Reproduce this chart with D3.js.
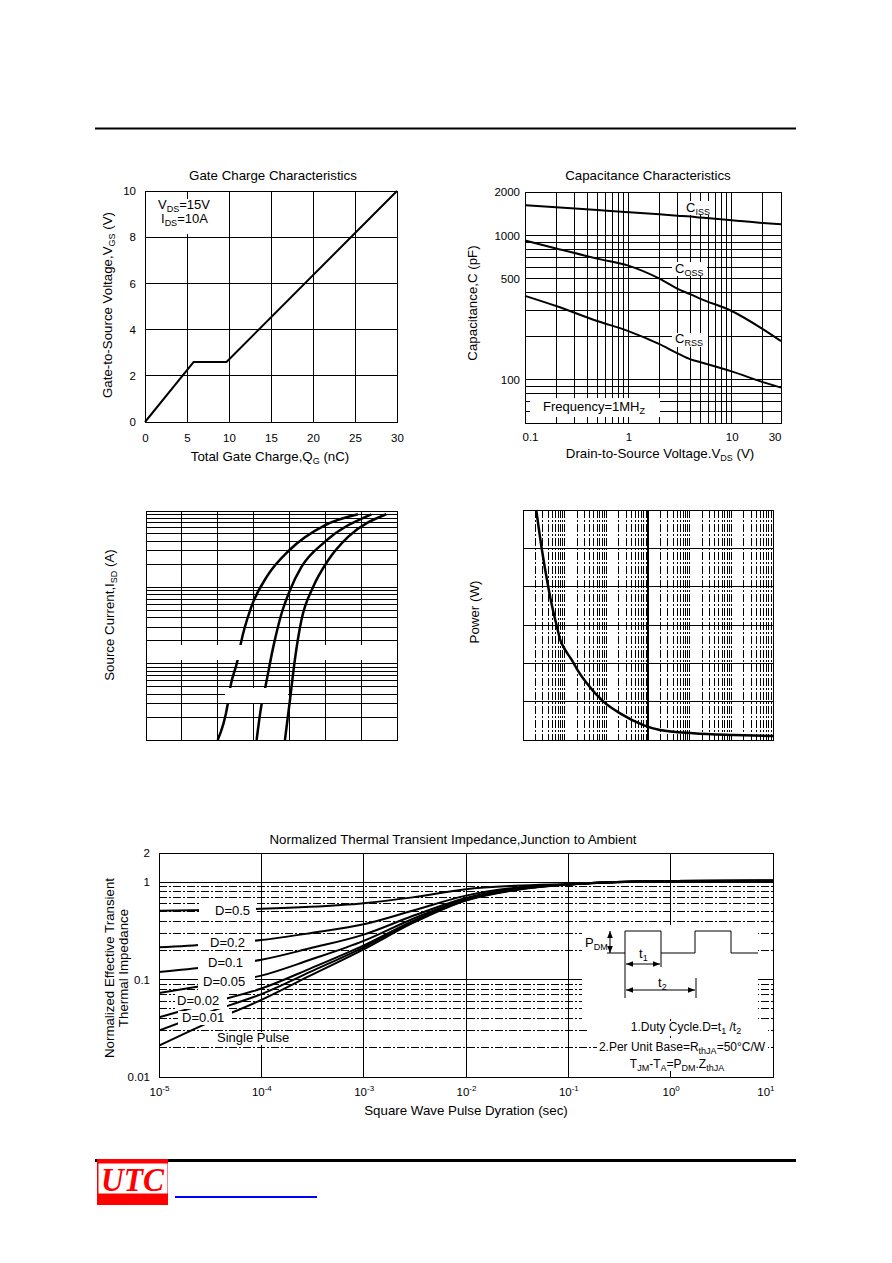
<!DOCTYPE html>
<meta charset="utf-8">
<script src="https://cdn.jsdelivr.net/npm/d3@7/dist/d3.min.js"></script>
<style>
body { margin: 0; background: #fff; }
svg text { font-family: "Liberation Sans", Arial, sans-serif; font-size: 13px; fill: #000; }
svg .tick text { font-size: 11.5px; }
svg text.title { font-size: 13.3px; }
svg text.small { font-size: 12px; }
line.grid { stroke: #000; stroke-width: 1px; shape-rendering: crispEdges; }
line.dash { stroke-dasharray: 8,2,2,2; }
path.curve { fill: none; stroke: #000; stroke-width: 2px; stroke-linejoin: round; }
rect.frame { fill: none; stroke: #000; stroke-width: 1px; shape-rendering: crispEdges; }
rect.blank { fill: #fff; }
</style>
<body>
<script>

// gate charge
var gateQ = [0, 5.8, 9.7, 30];
var gateV = [0, 2.6, 2.6, 10];
var gateXTicks = [0, 5, 10, 15, 20, 25, 30];
var gateYTicks = [0, 2, 4, 6, 8, 10];

// capacitance
var capV = [0.1, 0.2, 0.5, 1, 2, 3, 4, 5, 10, 20, 30];
var cissPF = [1620, 1570, 1500, 1450, 1400, 1370, 1350, 1330, 1275, 1220, 1195];
var cossPF = [922, 812, 690, 617, 501, 426, 390, 363, 299, 224, 185];
var crssPF = [381, 324, 255, 217, 176, 152, 138, 132, 114, 96, 88];
var capXTicks = [0.1, 1, 10, 30];
var capYTicks = [100, 500, 1000, 2000];

// source current vs source-drain voltage (three temperatures)
var sdXTicks = [0.2, 0.4, 0.6, 0.8, 1.0, 1.2, 1.4, 1.6];
var vsdA = [0.600, 0.656, 0.669, 0.712, 0.728, 0.789, 0.873, 0.999, 1.197, 1.382];
var isdA = [0.1, 0.296, 0.474, 1.14, 1.80, 5.67, 13.7, 30.6, 65.0, 90.6];
var vsdB = [0.817, 0.845, 0.864, 0.910, 0.956, 1.003, 1.067, 1.197, 1.457];
var isdB = [0.1, 0.296, 0.474, 1.66, 4.54, 9.17, 18.5, 39.4, 90.6];
var vsdC = [0.975, 1.003, 1.030, 1.067, 1.132, 1.216, 1.327, 1.540];
var isdC = [0.1, 0.334, 1.11, 3.72, 10.1, 22.6, 45.7, 90.6];

// single pulse power
var pwrT = [2.08e-4, 2.85e-4, 3.9e-4, 5.23e-4, 6.52e-4, 7.83e-4, 1.03e-3, 1.49e-3, 2.15e-3, 3.4e-3, 8.53e-3, 0.0214, 0.0774, 0.194, 1.22, 11.1, 100];
var pwrW = [120, 99.1, 81.7, 67.8, 59.1, 52.2, 47.0, 41.7, 35.7, 29.6, 20.0, 13.9, 7.8, 5.2, 3.5, 2.6, 2.1];
var pwrYTicks = [0, 20, 40, 60, 80, 100, 120];

// thermal transient impedance
var thT = [1e-5, 3e-5, 1e-4, 3e-4, 1e-3, 3e-3, 1e-2, 3e-2, 0.1, 1, 10];
var thD05 = [0.51, 0.52, 0.535, 0.56, 0.61, 0.70, 0.85, 0.92, 0.96, 1.03, 1.04];
var thD02 = [0.215, 0.23, 0.255, 0.30, 0.37, 0.51, 0.73, 0.88, 0.95, 1.03, 1.04];
var thD01 = [0.12, 0.135, 0.16, 0.21, 0.29, 0.45, 0.69, 0.86, 0.95, 1.03, 1.04];
var thD005 = [0.073, 0.088, 0.11, 0.16, 0.25, 0.42, 0.67, 0.85, 0.95, 1.03, 1.04];
var thD002 = [0.041, 0.057, 0.081, 0.13, 0.225, 0.40, 0.66, 0.84, 0.95, 1.03, 1.04];
var thD001 = [0.030, 0.046, 0.071, 0.12, 0.215, 0.39, 0.655, 0.84, 0.95, 1.03, 1.04];
var thSingle = [0.021, 0.036, 0.062, 0.11, 0.205, 0.38, 0.65, 0.83, 0.95, 1.03, 1.04];
var thXTicks = [1e-5, 1e-4, 1e-3, 1e-2, 1e-1, 1, 10];
var thXMajor = [1e-4, 1e-3, 1e-2, 1e-1, 1];
var thYTicks = [0.01, 0.1, 1, 2];

var svg = d3.select("body").append("svg")
    .attr("width", 892)
    .attr("height", 1263);

var defs = svg.append("defs");
defs.append("marker")
    .attr("id", "arr")
    .attr("viewBox", "0 0 10 10")
    .attr("refX", 10).attr("refY", 5)
    .attr("markerWidth", 7).attr("markerHeight", 7)
    .attr("orient", "auto-start-reverse")
  .append("path")
    .attr("d", "M0,1L10,5L0,9Z");

// ---- helpers
function gridX(g, scale, values, y0, y1, cls) {
  g.append("g").selectAll("line").data(values).enter().append("line")
      .attr("class", "grid " + (cls || ""))
      .attr("x1", function(d) { return scale(d); })
      .attr("x2", function(d) { return scale(d); })
      .attr("y1", y0).attr("y2", y1);
}
function gridY(g, scale, values, x0, x1, cls) {
  g.append("g").selectAll("line").data(values).enter().append("line")
      .attr("class", "grid " + (cls || ""))
      .attr("y1", function(d) { return scale(d); })
      .attr("y2", function(d) { return scale(d); })
      .attr("x1", x0).attr("x2", x1);
}
function frame(g, x0, y0, x1, y1) {
  g.append("rect").attr("class", "frame")
      .attr("x", x0).attr("y", y0).attr("width", x1 - x0).attr("height", y1 - y0);
}
function blank(g, x0, y0, x1, y1) {
  g.append("rect").attr("class", "blank")
      .attr("x", x0).attr("y", y0).attr("width", x1 - x0).attr("height", y1 - y0);
}
function curve(g, xs, ys, x, y, w, shape) {
  var line = d3.line()
      .x(function(d) { return x(d[0]); })
      .y(function(d) { return y(d[1]); })
      .curve(shape || d3.curveMonotoneX);
  g.append("path").attr("class", "curve")
      .attr("d", line(d3.zip(xs, ys)))
      .style("stroke-width", w + "px");
}
// parts: plain strings or ["sub", "DS"] / ["sup", "-5"]
function rich(sel, parts) {
  var shift = 0;
  parts.forEach(function(p) {
    var t = sel.append("tspan");
    if (typeof p === "string") {
      t.text(p);
      if (shift) t.attr("dy", -shift);
      shift = 0;
    } else {
      var s = p[0] === "sub" ? 3 : -5;
      t.text(p[1]).attr("dy", s - shift).style("font-size", "9px");
      shift = s;
    }
  });
  return sel;
}
function txt(g, x, y, parts, anchor, rotate, cls) {
  var t = g.append("text").attr("text-anchor", anchor || "start");
  if (cls) t.attr("class", cls);
  if (rotate) t.attr("transform", "translate(" + x + "," + y + ") rotate(-90)");
  else t.attr("x", x).attr("y", y);
  return rich(t, parts);
}
function noDomain(a) { a.select(".domain").remove(); }

// header rule
svg.append("line").attr("x1", 95).attr("x2", 796).attr("y1", 128.5).attr("y2", 128.5)
    .style("stroke", "#000").style("stroke-width", 2);

// ================= Gate charge
var gA = svg.append("g");
var xA = d3.scaleLinear().domain([0, 30]).range([145, 397]);
var yA = d3.scaleLinear().domain([0, 10]).range([422, 191]);
gridX(gA, xA, gateXTicks, 191, 422);
gridY(gA, yA, gateYTicks, 145, 397);
curve(gA, gateQ, gateV, xA, yA, 2, d3.curveLinear);
blank(gA, 155, 199, 217, 234);
txt(gA, 158, 209, ["V", ["sub", "DS"], "=15V"]);
txt(gA, 161, 223, ["I", ["sub", "DS"], "=10A"]);
frame(gA, 145, 191, 397, 422);
gA.append("g").attr("transform", "translate(0,422)")
    .call(d3.axisBottom(xA).tickValues(gateXTicks).tickSize(0).tickPadding(12))
    .call(noDomain);
gA.append("g").attr("transform", "translate(145,0)")
    .call(d3.axisLeft(yA).tickValues(gateYTicks).tickSize(0).tickPadding(9))
    .call(noDomain);
txt(gA, 273, 180, ["Gate Charge Characteristics"], "middle", false, "title");
txt(gA, 270, 461, ["Total Gate Charge,Q", ["sub", "G"], " (nC)"], "middle", false, "title");
txt(gA, 112, 305, ["Gate-to-Source Voltage,V", ["sub", "GS"], " (V)"], "middle", true, "title");

// ================= Capacitance
var gB = svg.append("g");
var xB = d3.scaleLog().domain([0.1, 30]).range([525, 781]);
var yB = d3.scaleLog().domain([50, 2000]).range([423, 192]);
gridX(gB, xB, xB.ticks(), 192, 423);
gridY(gB, yB, yB.ticks(), 525, 781);
curve(gB, capV, cissPF, xB, yB, 2);
curve(gB, capV, cossPF, xB, yB, 2);
curve(gB, capV, crssPF, xB, yB, 2);
blank(gB, 683, 201, 713, 215);
blank(gB, 672, 262, 707, 276);
blank(gB, 672, 333, 708, 347);
blank(gB, 530, 398, 660, 417);
txt(gB, 686, 212, ["C", ["sub", "ISS"]]);
txt(gB, 675, 273, ["C", ["sub", "OSS"]]);
txt(gB, 675, 343, ["C", ["sub", "RSS"]]);
txt(gB, 543, 411, ["Frequency=1MH", ["sub", "Z"]]);
frame(gB, 525, 192, 781, 423);
var axB = gB.append("g").attr("transform", "translate(0,423)")
    .call(d3.axisBottom(xB).tickValues(capXTicks).tickSize(0).tickPadding(10)
      .tickFormat(function(d) { return String(d); }))
    .call(noDomain);
axB.selectAll(".tick text").filter(function(d) { return d === 0.1; })
    .attr("text-anchor", "start").attr("x", -3);
axB.selectAll(".tick text").filter(function(d) { return d === 30; })
    .attr("text-anchor", "end");
gB.append("g").attr("transform", "translate(525,0)")
    .call(d3.axisLeft(yB).tickValues(capYTicks).tickSize(0).tickPadding(5)
      .tickFormat(function(d) { return String(d); }))
    .call(noDomain);
txt(gB, 648, 180, ["Capacitance Characteristics"], "middle", false, "title");
txt(gB, 660, 458, ["Drain-to-Source Voltage.V", ["sub", "DS"], " (V)"], "middle", false, "title");
txt(gB, 477, 303, ["Capacitance,C (pF)"], "middle", true, "title");

// ================= Source current
var gC = svg.append("g");
var xC = d3.scaleLinear().domain([0.2, 1.6]).range([146, 397]);
var yC = d3.scaleLog().domain([0.1, 100]).range([740, 511]);
gridX(gC, xC, sdXTicks, 511, 740);
gridY(gC, yC, yC.ticks(), 146, 397);
curve(gC, vsdA, isdA, xC, yC, 2.5);
curve(gC, vsdB, isdB, xC, yC, 2.5);
curve(gC, vsdC, isdC, xC, yC, 2.5);
blank(gC, 148, 645, 243, 660);
blank(gC, 320, 645, 366, 660);
blank(gC, 225, 688, 288, 703);
frame(gC, 146, 511, 397, 740);
txt(gC, 114, 615, ["Source Current,I", ["sub", "SD"], " (A)"], "middle", true, "title");

// ================= Power
var gD = svg.append("g");
var xD = d3.scaleLog().domain([1e-4, 100]).range([523, 773]);
var yD = d3.scaleLinear().domain([0, 120]).range([740, 510]);
gridX(gD, xD, xD.ticks().filter(function(d) { return d > 1e-4 && d < 100 && Math.abs(d - 0.1) > 1e-9; }), 510, 740, "dash");
gD.append("line").attr("x1", xD(0.1)).attr("x2", xD(0.1)).attr("y1", 510).attr("y2", 740)
    .style("stroke", "#000").style("stroke-width", 2);
gridY(gD, yD, pwrYTicks, 523, 773);
curve(gD, pwrT, pwrW, xD, yD, 2.5);
frame(gD, 523, 510, 773, 740);
txt(gD, 479, 612, ["Power (W)"], "middle", true, "title");

// ================= Thermal transient impedance
var gE = svg.append("g");
var xE = d3.scaleLog().domain([1e-5, 10]).range([159, 773]);
var yE = d3.scaleLog().domain([0.01, 2]).range([1077, 853]);
var yLines = yE.ticks().filter(function(d) { return d > 0.0101 && d < 1.99; });
gridY(gE, yE, yLines.filter(function(d) { return Math.abs(d - 0.1) > 1e-9 && Math.abs(d - 1) > 1e-9; }), 159, 773, "dash");
gridY(gE, yE, [0.1, 1], 159, 773);
gridX(gE, xE, thXMajor, 853, 1077);

var clipE = defs.append("clipPath").attr("id", "clipE");
clipE.append("rect").attr("x", 159).attr("y", 853).attr("width", 614).attr("height", 224);
var curvesE = gE.append("g").attr("clip-path", "url(#clipE)");
[thD05, thD02, thD01, thD005, thD002, thD001, thSingle].forEach(function(z) {
  curve(curvesE, thT, z, xE, yE, 2);
});

// label boxes
blank(gE, 199, 901, 256, 919);
blank(gE, 198, 935, 255, 950);
blank(gE, 198, 956, 255, 970);
blank(gE, 198, 975, 255, 990);
blank(gE, 175, 993, 227, 1009);
blank(gE, 178, 1011, 232, 1025);
blank(gE, 214, 1032, 292, 1045);
txt(gE, 215, 915, ["D=0.5"]);
txt(gE, 210, 947, ["D=0.2"]);
txt(gE, 208, 967, ["D=0.1"]);
txt(gE, 203, 986, ["D=0.05"]);
txt(gE, 177, 1005, ["D=0.02"]);
txt(gE, 182, 1022, ["D=0.01"]);
txt(gE, 217, 1042, ["Single Pulse"]);

// inset
blank(gE, 582, 925, 758, 1019);
blank(gE, 587, 1021, 768, 1036);
blank(gE, 597, 1038, 768, 1071);
gE.append("polyline")
    .attr("points", "607,953 625,953 625,931 661,931 661,953 695,953 695,931 731,931 731,953 758,953")
    .style("stroke", "#000").style("fill", "none");
function seg(x1, y1, x2, y2, arrows) {
  var l = gE.append("line").attr("x1", x1).attr("y1", y1).attr("x2", x2).attr("y2", y2)
      .style("stroke", "#000").style("stroke-width", 1);
  if (arrows) l.attr("marker-start", "url(#arr)").attr("marker-end", "url(#arr)");
}
seg(610, 931, 610, 953, true);
seg(625, 953, 625, 998);
seg(661, 953, 661, 967);
seg(696, 978, 696, 998);
seg(626, 964, 660, 964, true);
seg(626, 990, 695, 990, true);
txt(gE, 585, 947, ["P", ["sub", "DM"]]);
txt(gE, 639, 958, ["t", ["sub", "1"]]);
txt(gE, 658, 987, ["t", ["sub", "2"]]);
txt(gE, 686, 1031, ["1.Duty Cycle.D=t", ["sub", "1"], " /t", ["sub", "2"]], "middle", false, "small");
txt(gE, 682, 1051, ["2.Per Unit Base=R", ["sub", "thJA"], "=50\u00B0C/W"], "middle", false, "small");
txt(gE, 677, 1068, ["T", ["sub", "JM"], "-T", ["sub", "A"], "=P", ["sub", "DM"], ".Z", ["sub", "thJA"]], "middle", false, "small");

frame(gE, 159, 853, 773, 1077);
var axE = gE.append("g").attr("transform", "translate(0,1077)")
    .call(d3.axisBottom(xE).tickValues(thXTicks).tickSize(0).tickPadding(11)
      .tickFormat(function() { return ""; }))
    .call(noDomain);
axE.selectAll(".tick text").each(function(d) {
  var t = d3.select(this).text("10");
  t.append("tspan").attr("dy", -5).style("font-size", "8px")
      .text(String(Math.round(Math.log10(d))));
});
axE.selectAll(".tick text").filter(function(d) { return d === 10; })
    .attr("text-anchor", "end").attr("x", 1);
gE.append("g").attr("transform", "translate(159,0)")
    .call(d3.axisLeft(yE).tickValues(thYTicks).tickSize(0).tickPadding(9)
      .tickFormat(function(d) { return String(d); }))
    .call(noDomain);
txt(gE, 453, 844, ["Normalized Thermal Transient Impedance,Junction to Ambient"], "middle", false, "title");
txt(gE, 466, 1115, ["Square Wave Pulse Dyration (sec)"], "middle", false, "title");
txt(gE, 114, 968, ["Normalized Effective Transient"], "middle", true, "title");
txt(gE, 128, 968, ["Thermal Impedance"], "middle", true, "title");

// footer
svg.append("rect").attr("x", 95).attr("y", 1159).attr("width", 701).attr("height", 3).style("fill", "#000");
svg.append("rect").attr("x", 97).attr("y", 1159).attr("width", 71).attr("height", 46).style("fill", "#f00");
svg.append("rect").attr("x", 98.5).attr("y", 1163.5).attr("width", 69).attr("height", 30).style("fill", "#fff");
svg.append("text").attr("x", 101).attr("y", 1191)
    .attr("textLength", 63).attr("lengthAdjust", "spacingAndGlyphs")
    .style("font-family", "'Liberation Serif', 'Times New Roman', serif")
    .style("font-style", "italic").style("font-weight", "bold")
    .style("font-size", "33px").style("fill", "#f00")
    .text("UTC");
svg.append("line").attr("x1", 175).attr("x2", 317).attr("y1", 1197).attr("y2", 1197)
    .style("stroke", "#00f").style("stroke-width", 2);

</script>
</body>
</html>
